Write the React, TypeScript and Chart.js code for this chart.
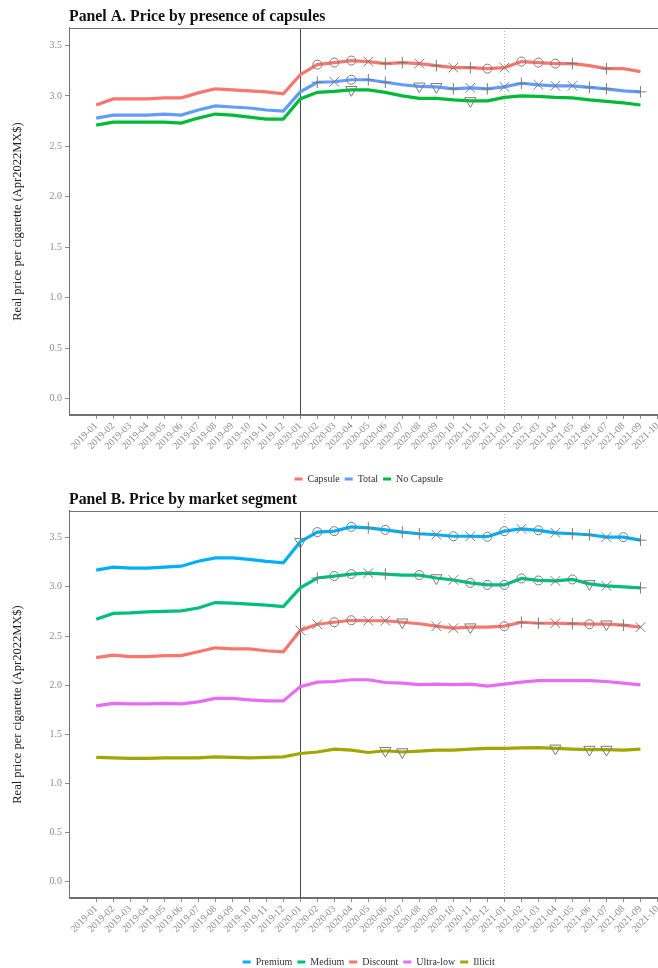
import React, { useEffect, useRef } from 'react';
import { Chart, registerables } from 'chart.js';

Chart.register(...registerables);
Chart.defaults.font.family = "'Liberation Serif', 'DejaVu Serif', serif";

// ---------- data ----------
const MONTHS = [
  '2019-01', '2019-02', '2019-03', '2019-04', '2019-05', '2019-06', '2019-07', '2019-08', '2019-09', '2019-10', '2019-11', '2019-12',
  '2020-01', '2020-02', '2020-03', '2020-04', '2020-05', '2020-06', '2020-07', '2020-08', '2020-09', '2020-10', '2020-11', '2020-12',
  '2021-01', '2021-02', '2021-03', '2021-04', '2021-05', '2021-06', '2021-07', '2021-08', '2021-09', '2021-10',
];
const Y_TICKS = [0, 0.5, 1, 1.5, 2, 2.5, 3, 3.5];
const Y_TITLE = 'Real price per cigarette (Apr2022MX$)';
const SOLID_LINE_MONTH = '2020-01';
const DOTTED_LINE_MONTH = '2021-01';

// Panel A
const CAPSULE = [2.91, 2.97, 2.97, 2.97, 2.98, 2.98, 3.03, 3.07, 3.06, 3.05, 3.04, 3.02, 3.21, 3.31, 3.33, 3.35, 3.34, 3.32, 3.33, 3.32, 3.30, 3.28, 3.28, 3.27, 3.28, 3.34, 3.33, 3.32, 3.32, 3.30, 3.27, 3.27, 3.24];
const TOTAL = [2.78, 2.81, 2.81, 2.81, 2.82, 2.81, 2.86, 2.90, 2.89, 2.88, 2.86, 2.85, 3.04, 3.135, 3.14, 3.16, 3.16, 3.135, 3.11, 3.095, 3.09, 3.07, 3.08, 3.07, 3.09, 3.125, 3.11, 3.10, 3.10, 3.085, 3.07, 3.05, 3.04];
const NO_CAPSULE = [2.71, 2.74, 2.74, 2.74, 2.74, 2.73, 2.78, 2.82, 2.81, 2.79, 2.77, 2.77, 2.97, 3.035, 3.045, 3.06, 3.06, 3.035, 3.00, 2.975, 2.975, 2.96, 2.95, 2.95, 2.985, 3.00, 2.995, 2.985, 2.98, 2.96, 2.945, 2.93, 2.91];
// markers: o circle, x cross, + plus, v down-triangle, . none
const CAPSULE_MARKS = '.............' + 'ooox++x+x+oxooo+.+..';
const TOTAL_MARKS = '.............' + '+xo++.vv+x+x+xxx++.+';
const NO_CAPSULE_MARKS = '.............' + '..v......v..........';

// Panel B
const PREMIUM = [3.17, 3.20, 3.19, 3.19, 3.20, 3.21, 3.26, 3.295, 3.295, 3.28, 3.26, 3.245, 3.46, 3.557, 3.567, 3.61, 3.60, 3.58, 3.557, 3.54, 3.53, 3.515, 3.515, 3.51, 3.567, 3.59, 3.575, 3.55, 3.54, 3.53, 3.506, 3.506, 3.475];
const MEDIUM = [2.67, 2.73, 2.735, 2.745, 2.75, 2.755, 2.785, 2.84, 2.835, 2.825, 2.815, 2.80, 2.99, 3.09, 3.11, 3.13, 3.14, 3.13, 3.12, 3.12, 3.09, 3.07, 3.04, 3.02, 3.02, 3.085, 3.065, 3.06, 3.075, 3.03, 3.01, 3.00, 2.99];
const DISCOUNT = [2.28, 2.306, 2.29, 2.29, 2.30, 2.30, 2.34, 2.38, 2.37, 2.37, 2.35, 2.34, 2.557, 2.62, 2.64, 2.66, 2.655, 2.655, 2.64, 2.625, 2.60, 2.58, 2.59, 2.59, 2.60, 2.64, 2.63, 2.63, 2.625, 2.62, 2.62, 2.61, 2.59];
const ULTRA_LOW = [1.79, 1.815, 1.81, 1.81, 1.815, 1.81, 1.83, 1.865, 1.865, 1.85, 1.84, 1.84, 1.985, 2.03, 2.037, 2.055, 2.055, 2.027, 2.02, 2.006, 2.01, 2.006, 2.01, 1.99, 2.01, 2.03, 2.047, 2.047, 2.047, 2.047, 2.037, 2.02, 2.003];
const ILLICIT = [1.265, 1.26, 1.255, 1.255, 1.26, 1.26, 1.26, 1.27, 1.265, 1.26, 1.265, 1.27, 1.305, 1.32, 1.35, 1.34, 1.315, 1.333, 1.32, 1.33, 1.34, 1.34, 1.35, 1.357, 1.357, 1.363, 1.365, 1.357, 1.35, 1.345, 1.345, 1.34, 1.35];
const PREMIUM_MARKS = '............' + 'v' + 'ooo+o++xoxooxox++xo+';
const MEDIUM_MARKS = '.............' + '+oox+.ovxoooooxovx.+';
const DISCOUNT_MARKS = '............' + 'x' + 'xooxxv.xxv.o++x+ov+x';
const ULTRA_LOW_MARKS = '.................................';
const ILLICIT_MARKS = '.................' + 'vv' + '........' + 'v' + '.' + 'vv' + '..';

// ---------- styling ----------
const STYLE: Record<string, string> = { o: 'circle', x: 'crossRot', '+': 'cross', v: 'triangle' };
const RADIUS: Record<string, number> = { o: 4.5, x: 6.8, '+': 5.8, v: 6.5 };
const MARK_COLOR = '#7a7a7a';
const TICK_COLOR = '#8c8c8c';
const AXIS_COLOR = '#707070';
const W = 700;
const H = 494;

function makeDataset(label: string, values: number[], color: string, marks: string) {
  const m = marks.split('');
  return {
    label,
    data: values.map((y, i) => ({ x: i, y })),
    borderColor: color,
    backgroundColor: color,
    borderWidth: 3.2,
    tension: 0,
    fill: false,
    pointStyle: m.map((c) => STYLE[c] || 'circle'),
    pointRadius: m.map((c) => RADIUS[c] || 0),
    pointRotation: m.map((c) => (c === 'v' ? 180 : 0)),
    pointBorderColor: MARK_COLOR,
    pointBackgroundColor: 'rgba(0,0,0,0)',
    pointBorderWidth: 1,
    pointHoverRadius: 0,
  };
}

const framePlugin = {
  id: 'panelFrame',
  beforeDatasetsDraw(chart: any) {
    const { ctx, chartArea, scales } = chart;
    const { top, bottom } = chartArea;
    const xs = Math.round(scales.x.getPixelForValue(MONTHS.indexOf(SOLID_LINE_MONTH))) + 0.5;
    const xd = Math.round(scales.x.getPixelForValue(MONTHS.indexOf(DOTTED_LINE_MONTH))) + 0.5;
    ctx.save();
    ctx.lineWidth = 1;
    ctx.strokeStyle = '#4a4a4a';
    ctx.beginPath();
    ctx.moveTo(xs, top);
    ctx.lineTo(xs, bottom);
    ctx.stroke();
    ctx.strokeStyle = '#b5b5b5';
    ctx.setLineDash([1, 2]);
    ctx.beginPath();
    ctx.moveTo(xd, top);
    ctx.lineTo(xd, bottom);
    ctx.stroke();
    ctx.restore();
  },
  afterDraw(chart: any) {
    const { ctx, chartArea } = chart;
    ctx.save();
    ctx.strokeStyle = AXIS_COLOR;
    ctx.lineWidth = 1;
    ctx.strokeRect(
      Math.round(chartArea.left) + 0.5,
      Math.round(chartArea.top) + 0.5,
      Math.round(chartArea.right - chartArea.left),
      Math.round(chartArea.bottom - chartArea.top)
    );
    ctx.restore();
  },
};

function buildConfig(title: string, yMin: number, yMax: number, datasets: any[]) {
  return {
    type: 'line',
    data: { datasets },
    plugins: [framePlugin],
    options: {
      responsive: false,
      animation: false,
      devicePixelRatio: 1,
      events: [],
      layout: { padding: { left: 0, right: W - 668.5, top: 0, bottom: 0 } },
      scales: {
        x: {
          type: 'linear',
          min: -1.6,
          max: 33.65,
          afterBuildTicks: (s: any) => {
            s.ticks = MONTHS.map((_, i) => ({ value: i }));
          },
          afterFit: (s: any) => {
            s.height = H - 25 - 415;
          },
          ticks: {
            autoSkip: false,
            minRotation: 45,
            maxRotation: 45,
            padding: 1,
            color: TICK_COLOR,
            font: { size: 10 },
            callback: (v: any) => MONTHS[v],
          },
          grid: { drawOnChartArea: false, drawTicks: true, tickLength: 4, color: TICK_COLOR },
          border: { display: true, color: AXIS_COLOR },
        },
        y: {
          type: 'linear',
          min: yMin,
          max: yMax,
          afterBuildTicks: (s: any) => {
            s.ticks = Y_TICKS.map((v) => ({ value: v }));
          },
          afterFit: (s: any) => {
            s.width = 69;
          },
          ticks: {
            padding: 3,
            color: TICK_COLOR,
            font: { size: 10 },
            callback: (v: any) => Number(v).toFixed(1),
          },
          grid: { drawOnChartArea: false, drawTicks: true, tickLength: 4, color: TICK_COLOR },
          border: { display: true, color: AXIS_COLOR },
          title: {
            display: true,
            text: Y_TITLE,
            color: '#222',
            font: { size: 12.5 },
            padding: { top: 10, bottom: 0 },
          },
        },
      },
      plugins: {
        title: {
          display: true,
          text: title,
          align: 'start',
          fullSize: false,
          color: '#111',
          font: { size: 15.8, weight: 'bold' },
          padding: { top: 7.5, bottom: 1.5 },
        },
        legend: {
          display: true,
          position: 'bottom',
          fullSize: false,
          labels: {
            boxWidth: 8,
            boxHeight: 3,
            padding: 5,
            color: '#333',
            font: { size: 10 },
            generateLabels: (chart: any) =>
              chart.data.datasets.map((ds: any, i: number) => ({
                text: ds.label,
                fillStyle: ds.borderColor,
                strokeStyle: ds.borderColor,
                lineWidth: 0,
                hidden: false,
                datasetIndex: i,
                fontColor: '#333',
              })),
          },
        },
        tooltip: { enabled: false },
      },
    },
  } as any;
}

export default function App() {
  const refA = useRef<HTMLCanvasElement>(null);
  const refB = useRef<HTMLCanvasElement>(null);

  useEffect(() => {
    const a = new Chart(
      refA.current as HTMLCanvasElement,
      buildConfig('Panel A. Price by presence of capsules', -0.162, 3.673, [
        makeDataset('Capsule', CAPSULE, '#F8766D', CAPSULE_MARKS),
        makeDataset('Total', TOTAL, '#619CFF', TOTAL_MARKS),
        makeDataset('No Capsule', NO_CAPSULE, '#00BA38', NO_CAPSULE_MARKS),
      ])
    );
    const b = new Chart(
      refB.current as HTMLCanvasElement,
      buildConfig('Panel B. Price by market segment', -0.165, 3.772, [
        makeDataset('Premium', PREMIUM, '#00B0F6', PREMIUM_MARKS),
        makeDataset('Medium', MEDIUM, '#00BF7D', MEDIUM_MARKS),
        makeDataset('Discount', DISCOUNT, '#F8766D', DISCOUNT_MARKS),
        makeDataset('Ultra-low', ULTRA_LOW, '#E76BF3', ULTRA_LOW_MARKS),
        makeDataset('Illicit', ILLICIT, '#A3A500', ILLICIT_MARKS),
      ])
    );
    return () => {
      a.destroy();
      b.destroy();
    };
  }, []);

  return (
    <div style={{ position: 'fixed', left: 0, top: 0, width: 658, height: 968, overflow: 'hidden', background: '#fff' }}>
      <canvas ref={refA} width={W} height={H} style={{ position: 'absolute', left: 0, top: 0, width: W, height: H }} />
      <canvas ref={refB} width={W} height={H} style={{ position: 'absolute', left: 0, top: 483, width: W, height: H }} />
    </div>
  );
}
